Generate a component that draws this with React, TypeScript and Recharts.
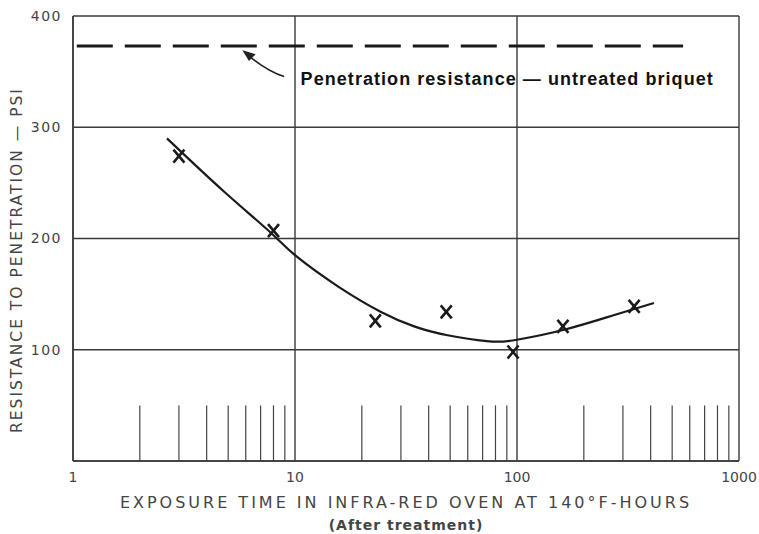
import {
  ComposedChart, Line, Scatter, XAxis, YAxis, CartesianGrid,
  ReferenceLine, ReferenceDot,
} from "recharts"

// measured points (x marks)
const hours = [3, 8, 23, 48, 96, 161, 337]
const psi = [274, 207, 126, 134, 98, 121, 139]

// faired curve through the points
const curveHours = [2.65, 4.8, 7.8, 10, 15.6, 24.4, 34.4, 48.7, 75, 100, 163, 272, 414]
const curvePsi = [290, 242, 205, 185, 157, 134, 121, 113, 107.5, 109, 118, 131, 142]

const untreated = 373
const untreatedFrom = 1.04
const untreatedTo = 560

const minorTicks = [2, 3, 4, 5, 6, 7, 8, 9, 20, 30, 40, 50, 60, 70, 80, 90, 200, 300, 400, 500, 600, 700, 800, 900]
const minorTickHeight = 50

const xTicks = [1, 10, 100, 1000]
const yTicks = [0, 100, 200, 300, 400]

const points = hours.map((h, i) => ({ x: h, y: psi[i] }))
const curve = curveHours.map((h, i) => ({ x: h, y: curvePsi[i] }))

const ink = "#222"
const grid = "#3a3a3a"
const labelFont = "'DejaVu Sans', sans-serif"

function Cross({ cx, cy }: any) {
  const s = 5.5
  return (
    <g stroke="#1a1a1a" strokeWidth={2.6}>
      <line x1={cx - s} y1={cy - s - 1} x2={cx + s} y2={cy + s + 1} />
      <line x1={cx + s} y1={cy - s - 1} x2={cx - s} y2={cy + s + 1} />
    </g>
  )
}

function Arrow({ cx, cy }: any) {
  return (
    <g stroke={ink} strokeWidth={1.6} fill="none">
      <path d={`M ${cx + 40} ${cy + 25} Q ${cx + 22} ${cy + 19} ${cx + 2} ${cy + 2}`} />
      <path d={`M ${cx} ${cy} L ${cx + 10} ${cy + 3} L ${cx + 5} ${cy + 8} Z`} fill={ink} />
    </g>
  )
}

function Note({ cx, cy }: any) {
  return (
    <text x={cx} y={cy} fill="#111" fontFamily="'Liberation Sans', Arial, sans-serif"
          fontWeight={700} fontSize={18} letterSpacing={1.05}>
      Penetration resistance — untreated briquet
    </text>
  )
}

function XLabel({ viewBox }: any) {
  const cx = viewBox.x + viewBox.width / 2
  return (
    <g fill="#444" fontFamily={labelFont}>
      <text x={cx} y={viewBox.y + 47} textAnchor="middle" fontSize={16} letterSpacing={3}>
        EXPOSURE TIME IN INFRA-RED OVEN AT 140°F-HOURS
      </text>
      <text x={cx} y={viewBox.y + 69} textAnchor="middle" fontSize={14} fontWeight={700} letterSpacing={1}>
        (After treatment)
      </text>
    </g>
  )
}

function YLabel() {
  return (
    <text x={0} y={0} transform="translate(22, 260) rotate(-90)" textAnchor="middle"
          fill="#444" fontFamily={labelFont} fontSize={15.5} letterSpacing={2}>
      RESISTANCE TO PENETRATION — PSI
    </text>
  )
}

export default function App() {
  return (
    <div style={{ position: "absolute", left: 0, top: 0, background: "white" }}>
      <ComposedChart width={759} height={534} margin={{ top: 16, right: 20, left: 0, bottom: 0 }}>
        <CartesianGrid stroke={grid} strokeWidth={1.4} />
        <XAxis
          type="number"
          dataKey="x"
          scale="log"
          domain={[1, 1000]}
          ticks={xTicks}
          allowDataOverflow
          height={73}
          axisLine={{ stroke: grid, strokeWidth: 1.6 }}
          tickLine={false}
          tickMargin={5}
          tick={{ fontSize: 14, fill: "#444", fontFamily: labelFont }}
          label={<XLabel />}
        />
        <YAxis
          type="number"
          dataKey="y"
          domain={[0, 400]}
          ticks={yTicks}
          width={73}
          axisLine={{ stroke: grid, strokeWidth: 1.6 }}
          tickLine={false}
          tickMargin={5}
          tickFormatter={(v) => (v === 0 ? "" : String(v))}
          tick={{ fontSize: 14, fill: "#444", fontFamily: labelFont, letterSpacing: 1.5 }}
          label={<YLabel />}
        />
        {minorTicks.map((t) => (
          <ReferenceLine
            key={t}
            segment={[{ x: t, y: 0 }, { x: t, y: minorTickHeight }]}
            stroke="#444"
            strokeWidth={1.2}
          />
        ))}
        <ReferenceLine
          segment={[{ x: untreatedFrom, y: untreated }, { x: untreatedTo, y: untreated }]}
          stroke="#1a1a1a"
          strokeWidth={3}
          strokeDasharray="36 12"
        />
        <ReferenceDot x={5.9} y={368} r={0} shape={<Arrow />} />
        <ReferenceDot x={10.6} y={338} r={0} shape={<Note />} />
        <Line
          data={curve}
          dataKey="y"
          type="natural"
          stroke="#1a1a1a"
          strokeWidth={2.2}
          dot={false}
          isAnimationActive={false}
        />
        <Scatter data={points} dataKey="y" shape={<Cross />} isAnimationActive={false} />
      </ComposedChart>
    </div>
  )
}
